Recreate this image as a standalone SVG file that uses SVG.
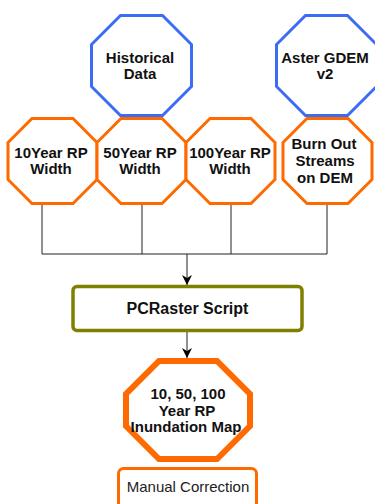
<svg xmlns="http://www.w3.org/2000/svg" width="375" height="504" viewBox="0 0 375 504">
  <defs>
    <marker id="arrow" viewBox="0 0 10 10" refX="10" refY="5" markerWidth="12" markerHeight="10" markerUnits="userSpaceOnUse" orient="auto">
      <path d="M0,0 L10,5 L0,10 L3,5 Z" fill="#000"/>
    </marker>
    <style>
      .src { fill: #fff; stroke: #3d6cf4; stroke-width: 3; }
      .step { fill: #fff; stroke: #ff6a00; stroke-width: 3; }
      .result { fill: #fff; stroke: #ff6a00; stroke-width: 6; }
      .script { fill: #fff; stroke: #808000; stroke-width: 3.5; }
      .note { fill: #fff; stroke: #ff6a00; stroke-width: 3; }
      .label { font-family: "Liberation Sans", Arial, sans-serif; font-size: 15px; font-weight: bold; fill: #111; text-anchor: middle; }
      .plain { font-family: "Liberation Sans", Arial, sans-serif; font-size: 15px; fill: #222; text-anchor: middle; }
      .wire { fill: none; stroke: #222; stroke-width: 1; }
    </style>
  </defs>

  <rect width="375" height="504" fill="#fff"/>

  <!-- connectors -->
  <g id="connectors">
    <path class="wire" d="M42,204 V254 M142,204 V254 M231,204 V254 M327,204 V254 M42,254 H327"/>
    <path class="wire" d="M187,254 V285" marker-end="url(#arrow)"/>
    <path class="wire" d="M187,331 V358" marker-end="url(#arrow)"/>
  </g>

  <!-- width inputs -->
  <g id="width10">
    <polygon class="step" points="32,118.5 73,118.5 97,142.5 97,179.5 73,203.5 32,203.5 8,179.5 8,142.5"/>
    <text class="label" x="51" y="158">10Year RP</text>
    <text class="label" x="51" y="174">Width</text>
  </g>
  <g id="width50">
    <polygon class="step" points="121,118.5 162,118.5 186,142.5 186,179.5 162,203.5 121,203.5 97,179.5 97,142.5"/>
    <text class="label" x="140" y="158">50Year RP</text>
    <text class="label" x="140" y="174">Width</text>
  </g>
  <g id="width100">
    <polygon class="step" points="210,118.5 251,118.5 275,142.5 275,179.5 251,203.5 210,203.5 186,179.5 186,142.5"/>
    <text class="label" x="230" y="158">100Year RP</text>
    <text class="label" x="230" y="174">Width</text>
  </g>
  <g id="burnout">
    <polygon class="step" points="307,118.5 348,118.5 372,142.5 372,179.5 348,203.5 307,203.5 283,179.5 283,142.5"/>
    <text class="label" x="324" y="148.5">Burn Out</text>
    <text class="label" x="325" y="165.5">Streams</text>
    <text class="label" x="325" y="182.5">on DEM</text>
  </g>

  <!-- data sources -->
  <g id="historical">
    <polygon class="src" points="120.5,15.5 162.5,15.5 191.5,44.5 191.5,86.5 162.5,115.5 120.5,115.5 91.5,86.5 91.5,44.5"/>
    <text class="label" x="140" y="62.5">Historical</text>
    <text class="label" x="140" y="79">Data</text>
  </g>
  <g id="aster">
    <polygon class="src" points="305.5,15.5 347.5,15.5 376.5,44.5 376.5,86.5 347.5,115.5 305.5,115.5 276.5,86.5 276.5,44.5"/>
    <text class="label" x="325" y="62.5">Aster GDEM</text>
    <text class="label" x="325" y="79">v2</text>
  </g>

  <!-- processing -->
  <g id="pcraster">
    <rect class="script" x="73" y="286.5" width="229" height="44" rx="4"/>
    <text class="label" x="187.5" y="314" style="font-size:16px">PCRaster Script</text>
  </g>

  <!-- output map -->
  <g id="inundation">
    <polygon class="result" points="159,361 217,361 250,394 250,426 217,459 159,459 126,426 126,394"/>
    <text class="label" x="188" y="399">10, 50, 100</text>
    <text class="label" x="187" y="415.5">Year RP</text>
    <text class="label" x="186" y="432">Inundation Map</text>
  </g>

  <g id="manual">
    <rect class="note" x="118.5" y="468.5" width="138" height="45" rx="5"/>
    <text class="plain" x="188" y="492">Manual Correction</text>
  </g>
</svg>
